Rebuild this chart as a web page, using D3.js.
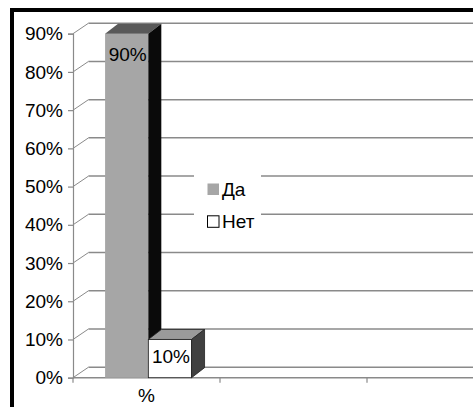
<!DOCTYPE html>
<html>
<head>
<meta charset="utf-8">
<script src="https://cdn.jsdelivr.net/npm/d3@7"></script>
<style>
  html, body { margin: 0; padding: 0; background: #fff; }
  svg { display: block; }
  text { font-family: "Liberation Sans", Arial, sans-serif; fill: #000; }
</style>
</head>
<body>
<svg id="chart" width="473" height="407"></svg>
<script>
// Category slots along the floor and the answer series
const categories = ["%", "", ""];
const seriesNames = ["Да", "Нет"];
const yesValues = [0.9];
const noValues = [0.1];
const yTickValues = [0, 0.1, 0.2, 0.3, 0.4, 0.5, 0.6, 0.7, 0.8, 0.9];

const W = 473, H = 407;
const svg = d3.select("#chart");
svg.append("rect").attr("width", W).attr("height", H).attr("fill", "#fff");

// Plot geometry (front plane) and 3D offsets
const x0 = 73, slot = 147;
const wallDx = 15.5, wallDy = -10.5;
const barDx = 13, barDy = -10;

const y = d3.scaleLinear().domain([0, 0.9]).range([377.7, 33.7]);
const x = d3.scaleBand().domain(d3.range(categories.length))
  .range([x0, x0 + slot * categories.length]).paddingInner(0).paddingOuter(0);
const xs = d3.scaleBand().domain(seriesNames)
  .range([0, x.bandwidth()]).paddingInner(0).paddingOuter(0.7).align(0.53);

const gridColor = "#8a8a8a";
const pct = d3.format(".0%");

// Back wall gridlines with their diagonal links to the front axis
const grid = svg.append("g");
yTickValues.forEach(t => {
  const yf = y(t), yb = y(t) + wallDy;
  grid.append("line").attr("x1", x0 + wallDx).attr("x2", W)
    .attr("y1", yb).attr("y2", yb)
    .attr("stroke", gridColor).attr("stroke-width", 1.5);
  grid.append("line").attr("x1", x0).attr("y1", yf)
    .attr("x2", x0 + wallDx).attr("y2", yb)
    .attr("stroke", gridColor).attr("stroke-width", 1);
});

// Front floor edge
grid.append("line").attr("x1", x0).attr("x2", W)
  .attr("y1", y(0)).attr("y2", y(0))
  .attr("stroke", gridColor).attr("stroke-width", 1.5);

// Category ticks
d3.range(categories.length).forEach(i => {
  grid.append("line").attr("x1", x(i)).attr("x2", x(i))
    .attr("y1", y(0)).attr("y2", y(0) + 5)
    .attr("stroke", gridColor).attr("stroke-width", 1.2);
});

// Value axis
const yAxis = d3.axisLeft(y).tickValues(yTickValues).tickFormat(pct)
  .tickSize(5).tickPadding(5);
const ag = svg.append("g").attr("transform", `translate(${x0},0)`).call(yAxis);
ag.select(".domain").attr("stroke", gridColor).attr("stroke-width", 1.2);
ag.selectAll(".tick line").attr("stroke", gridColor).attr("stroke-width", 1.2);
ag.selectAll(".tick text").attr("font-size", 19)
  .attr("font-family", "Liberation Sans, Arial, sans-serif").attr("fill", "#000");

// Category labels
categories.forEach((c, i) => {
  svg.append("text").attr("x", x(i) + x.bandwidth() / 2).attr("y", 402)
    .attr("text-anchor", "middle").attr("font-size", 19).text(c);
});

// 3D columns
const styles = {
  "Да": { front: "#a6a6a6", top: "#595959", side: "#0a0a0a", stroke: "none" },
  "Нет": { front: "#ffffff", top: "#9a9a9a", side: "#404040", stroke: "#222" }
};
const seriesData = [
  { name: "Да", values: yesValues },
  { name: "Нет", values: noValues }
];
const bars = svg.append("g");
seriesData.forEach(s => {
  const st = styles[s.name];
  s.values.forEach((v, i) => {
    const l = x(i) + xs(s.name), r = l + xs.bandwidth();
    const t = y(v), b = y(0);
    const g = bars.append("g");
    g.append("rect").attr("x", l).attr("y", t).attr("width", r - l).attr("height", b - t)
      .attr("fill", st.front).attr("stroke", st.stroke).attr("stroke-width", 0.8);
    g.append("path")
      .attr("d", `M${l},${t}L${l + barDx},${t + barDy}L${r + barDx},${t + barDy}L${r},${t}Z`)
      .attr("fill", st.top).attr("stroke", st.stroke).attr("stroke-width", 0.8);
    g.append("path")
      .attr("d", `M${r},${t}L${r + barDx},${t + barDy}L${r + barDx},${b + barDy}L${r},${b}Z`)
      .attr("fill", st.side).attr("stroke", st.stroke).attr("stroke-width", 0.8);
    const off = Math.min(21, (b - t) / 2 - 2.5);
    g.append("text").attr("x", (l + r) / 2 + 1).attr("y", t + off)
      .attr("dy", "0.35em").attr("text-anchor", "middle")
      .attr("font-size", 19).text(pct(v));
  });
});

// Legend
const lg = svg.append("g");
lg.append("rect").attr("x", 194).attr("y", 168).attr("width", 67).attr("height", 70)
  .attr("fill", "#fff");
seriesNames.forEach((n, i) => {
  const yy = 183.5 + i * 32.3;
  lg.append("rect").attr("x", 207.5).attr("y", yy).attr("width", 11.5).attr("height", 11.5)
    .attr("fill", styles[n].front)
    .attr("stroke", n === "Нет" ? "#000" : "none").attr("stroke-width", 1);
  lg.append("text").attr("x", 222).attr("y", yy + 12.3)
    .attr("font-size", 19).text(n);
});

// Outer frame
svg.append("rect").attr("x", 12).attr("y", 10).attr("width", 600).attr("height", 600)
  .attr("fill", "none").attr("stroke", "#000").attr("stroke-width", 4);
</script>
</body>
</html>
